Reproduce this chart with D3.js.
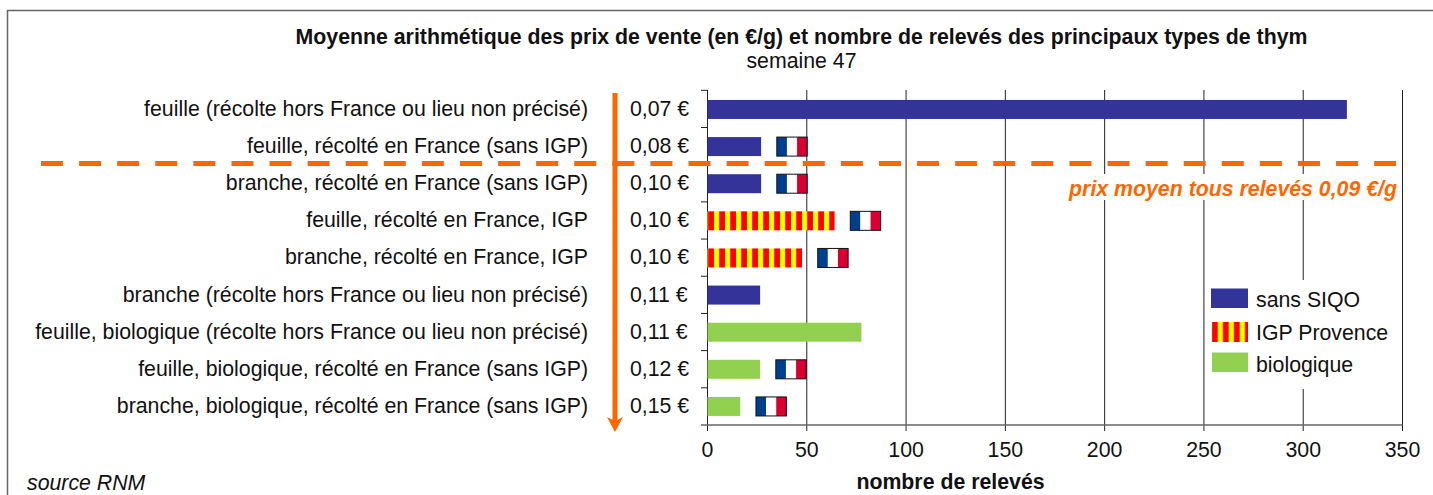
<!DOCTYPE html>
<html><head><meta charset="utf-8">
<script src="https://cdn.jsdelivr.net/npm/d3@7"></script>
<style>html,body{margin:0;padding:0;background:#fff;overflow:hidden}svg{display:block}text{font-family:"Liberation Sans",Arial,sans-serif;fill:#111}</style>
</head><body><svg id="c" width="1433" height="495"></svg>
<script>
const categories=["feuille (récolte hors France ou lieu non précisé)","feuille, récolté en France (sans IGP)","branche, récolté en France (sans IGP)","feuille, récolté en France, IGP","branche, récolté en France, IGP","branche (récolte hors France ou lieu non précisé)","feuille, biologique (récolte hors France ou lieu non précisé)","feuille, biologique, récolté en France (sans IGP)","branche, biologique, récolté en France (sans IGP)"];
const prices=["0,07 €","0,08 €","0,10 €","0,10 €","0,10 €","0,11 €","0,11 €","0,12 €","0,15 €"];
const counts=[322,27,27,64,47.6,26.5,77.5,26.5,16.5];
const types=["sans","sans","sans","igp","igp","sans","bio","bio","bio"];
const french=[false,true,true,true,true,false,false,true,true];
const xTicks=[0,50,100,150,200,250,300,350];
const legendItems=[["sans","sans SIQO"],["igp","IGP Provence"],["bio","biologique"]];
const FS=21.3;
const svg=d3.select("#c");
const x=d3.scaleLinear().domain([0,350]).range([707.5,1402.5]);
const y=d3.scaleBand().domain(d3.range(categories.length)).range([90.9,425]);
const tickY=d3.scaleLinear().domain([0,categories.length]).range([90.3,425]);
const defs=svg.append("defs");
function stripes(id,px){
  const p=defs.append("pattern").attr("id",id).attr("patternUnits","userSpaceOnUse").attr("width",11).attr("height",30).attr("x",px);
  p.append("rect").attr("width",11).attr("height",30).attr("fill","#f00");
  p.append("rect").attr("width",5.2).attr("height",30).attr("fill","#ff0");
}
stripes("igp",714);
stripes("legendIgp",1217.7);
const fill={sans:"#333399",igp:"url(#igp)",bio:"#92d050"};
svg.append("rect").attr("x",7.5).attr("y",10.5).attr("width",1445).attr("height",500).attr("fill","#fff").attr("stroke","#666").attr("stroke-width",1.5);
svg.append("text").attr("x",801.5).attr("y",44).attr("text-anchor","middle").attr("font-size",FS).attr("font-weight","bold").text("Moyenne arithmétique des prix de vente (en €/g) et nombre de relevés des principaux types de thym");
svg.append("text").attr("x",801.5).attr("y",68).attr("text-anchor","middle").attr("font-size",FS).text("semaine 47");
// grid
svg.append("g").selectAll("line").data(xTicks.slice(1)).join("line").attr("x1",d=>x(d)).attr("x2",d=>x(d)).attr("y1",90).attr("y2",431).attr("stroke","#222").attr("stroke-width",1);
// axes
const gy=svg.append("g");
gy.append("line").attr("x1",707.5).attr("x2",707.5).attr("y1",90).attr("y2",431).attr("stroke","#222");
gy.selectAll("line.t").data(d3.range(categories.length)).join("line").attr("class","t").attr("x1",701).attr("x2",707.5).attr("y1",d=>tickY(d)).attr("y2",d=>tickY(d)).attr("stroke","#222");
svg.append("line").attr("x1",701).attr("x2",1402.5).attr("y1",425).attr("y2",425).attr("stroke","#666").attr("stroke-width",1.5);
svg.append("g").selectAll("text").data(xTicks).join("text").attr("x",d=>x(d)).attr("y",457).attr("text-anchor","middle").attr("font-size",FS).text(d=>d);
svg.append("text").attr("x",950.5).attr("y",488.5).attr("text-anchor","middle").attr("font-size",FS).attr("font-weight","bold").text("nombre de relevés");
svg.append("text").attr("x",27).attr("y",490.4).attr("font-size",FS).attr("font-style","italic").text("source RNM");
// labels
const cy=i=>y(i)+y.bandwidth()/2;
svg.append("g").selectAll("text").data(categories).join("text").attr("x",588).attr("y",(d,i)=>cy(i)+6.5).attr("text-anchor","end").attr("font-size",FS).text(d=>d);
svg.append("g").selectAll("text").data(prices).join("text").attr("x",630).attr("y",(d,i)=>cy(i)+6.5).attr("font-size",FS).text(d=>d);
// bars
const barH=19;
svg.append("g").selectAll("rect").data(counts).join("rect").attr("x",x(0)).attr("y",(d,i)=>cy(i)-barH/2).attr("width",d=>x(d)-x(0)).attr("height",barH).attr("fill",(d,i)=>fill[types[i]]);
// flags
const flagW=30.4;
const flags=svg.append("g").selectAll("g").data(counts.map((c,i)=>({c,i})).filter(d=>french[d.i])).join("g").attr("transform",d=>`translate(${x(d.c)+15.7},${cy(d.i)-barH/2})`);
[["#003f8f",0],["#fff",1],["#d80032",2]].forEach(([col,k])=>flags.append("rect").attr("x",k*flagW/3).attr("width",flagW/3).attr("height",barH).attr("fill",col));
flags.append("rect").attr("width",flagW).attr("height",barH).attr("fill","none").attr("stroke","#111").attr("stroke-width",1);
// arrow
svg.append("line").attr("x1",615).attr("x2",615).attr("y1",93).attr("y2",425).attr("stroke","#ff6600").attr("stroke-width",5);
svg.append("path").attr("d",d3.line()([[607,417],[615,421],[623,417],[615,432]])+"Z").attr("fill","#ff6600");
// mean line + label
svg.append("line").attr("x1",41).attr("x2",1396).attr("y1",163.5).attr("y2",163.5).attr("stroke","#ff6600").attr("stroke-width",5).attr("stroke-dasharray","22 16.09");
svg.append("rect").attr("x",1066).attr("y",174).attr("width",333).attr("height",26).attr("fill","#fff");
svg.append("text").attr("x",1397).attr("y",196).attr("text-anchor","end").attr("font-size",FS).attr("font-weight","bold").attr("font-style","italic").style("fill","#ff6600").text("prix moyen tous relevés 0,09 €/g");
// legend
svg.append("rect").attr("x",1207).attr("y",280).attr("width",190).attr("height",109).attr("fill","#fff");
const ly=[298.5,332,362.5];
const lg=svg.append("g").selectAll("g").data(legendItems).join("g");
lg.append("rect").attr("x",(d,i)=>i?1212:1211).attr("y",(d,i)=>ly[i]-10).attr("width",(d,i)=>i?36:37).attr("height",(d,i)=>i==1?20:19.5).attr("fill",d=>d[0]==="igp"?"url(#legendIgp)":fill[d[0]]);
lg.append("text").attr("x",1256).attr("y",(d,i)=>[307,340,372][i]).attr("font-size",FS).text(d=>d[1]);
</script></body></html>
